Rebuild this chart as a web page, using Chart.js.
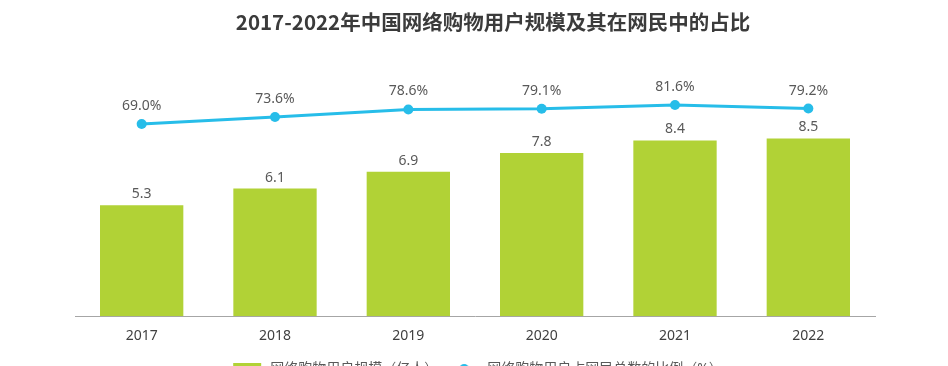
<!DOCTYPE html>
<html>
<head>
<meta charset="utf-8">
<script src="https://cdn.jsdelivr.net/npm/chart.js@4.4.1/dist/chart.umd.min.js"></script>
<style>
  html, body { margin: 0; padding: 0; background: #fff; overflow: hidden; }
  #wrap { width: 948px; height: 386px; position: relative; }
</style>
</head>
<body>
<div id="wrap"><canvas id="chart"></canvas></div>
<script>
const years = ["2017", "2018", "2019", "2020", "2021", "2022"];
const users = [5.3, 6.1, 6.9, 7.8, 8.4, 8.5];          // 亿人
const share = [69.0, 73.6, 78.6, 79.1, 81.6, 79.2];    // %
const titleText = "2017-2022年中国网络购物用户规模及其在网民中的占比";

const GREEN = "#b1d236";
const CYAN = "#27bde9";
const FONT = "'Noto Sans', 'Noto Sans CJK SC', sans-serif";

// little legend symbols (transparent margin on the left gives the item gap)
function makeIcon(kind) {
  const c = document.createElement("canvas");
  c.width = 36; c.height = 14;
  const g = c.getContext("2d");
  if (kind === "bar") {
    g.fillStyle = GREEN;
    g.fillRect(6, 1, 28, 12);
  } else {
    g.strokeStyle = CYAN; g.lineWidth = 3;
    g.beginPath(); g.moveTo(5, 7); g.lineTo(35, 7); g.stroke();
    g.fillStyle = CYAN;
    g.beginPath(); g.arc(20, 7, 5, 0, Math.PI * 2); g.fill();
  }
  return c;
}
const icons = [makeIcon("bar"), makeIcon("line")];

// title is drawn by hand so it can sit a bit right of centre like the original
const titleDraw = {
  id: "titleDraw",
  afterDraw(chart) {
    const ctx = chart.ctx;
    ctx.save();
    ctx.font = "bold 20.5px 'Noto Sans CJK SC', sans-serif";
    ctx.fillStyle = "#3b3b3b";
    ctx.textAlign = "center";
    ctx.textBaseline = "middle";
    ctx.fillText(titleText, 493, 22);
    ctx.restore();
  }
};

const valueLabels = {
  id: "valueLabels",
  afterDatasetsDraw(chart) {
    const ctx = chart.ctx;
    ctx.save();
    ctx.font = "14px " + FONT;
    ctx.fillStyle = "#595959";
    ctx.textAlign = "center";
    ctx.textBaseline = "middle";
    chart.getDatasetMeta(1).data.forEach((bar, i) => {
      ctx.fillText(users[i].toFixed(1), bar.x, bar.y - 11);
    });
    chart.getDatasetMeta(0).data.forEach((pt, i) => {
      ctx.fillText(share[i].toFixed(1) + "%", pt.x, pt.y - 18);
    });
    ctx.restore();
  }
};

new Chart(document.getElementById("chart"), {
  data: {
    labels: years,
    datasets: [
      {
        type: "line",
        label: "网络购物用户占网民总数的比例（%）",
        data: share,
        yAxisID: "y2",
        borderColor: CYAN,
        backgroundColor: CYAN,
        borderWidth: 3,
        pointRadius: 5,
        pointBackgroundColor: CYAN,
        pointBorderWidth: 0,
        tension: 0,
        order: 0,
      },
      {
        type: "bar",
        label: "网络购物用户规模（亿人）",
        data: users,
        yAxisID: "y",
        backgroundColor: GREEN,
        categoryPercentage: 1,
        barPercentage: 0.625,
        order: 1,
      },
    ],
  },
  options: {
    responsive: true,
    maintainAspectRatio: false,
    animation: false,
    layout: { padding: { left: 75, right: 73, top: 70, bottom: 0 } },
    plugins: {
      title: { display: false },
      legend: {
        position: "bottom",
        reverse: true,
        labels: {
          color: "#595959",
          font: { family: FONT, size: 14 },
          usePointStyle: true,
          pointStyleWidth: 36,
          padding: 6,
          generateLabels(chart) {
            const items = Chart.defaults.plugins.legend.labels.generateLabels(chart);
            items.forEach(it => { it.pointStyle = icons[it.datasetIndex === 1 ? 0 : 1]; });
            return items;
          },
        },
      },
      tooltip: { enabled: false },
    },
    scales: {
      x: {
        grid: { display: false, drawTicks: false },
        border: { display: true, color: "#a6a6a6", width: 1 },
        ticks: { color: "#404040", font: { family: FONT, size: 14 }, padding: 11.5 },
      },
      y: { display: false, min: 0, max: 11.77 },
      y2: { display: false, min: -58.2, max: 104.7 },
    },
  },
  plugins: [valueLabels, titleDraw],
});
</script>
</body>
</html>
